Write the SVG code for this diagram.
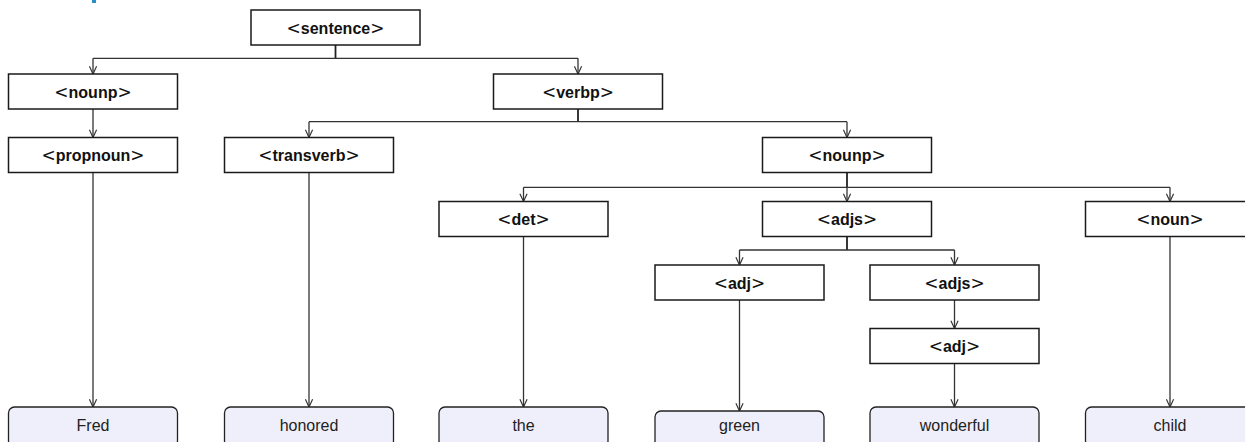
<svg xmlns="http://www.w3.org/2000/svg" width="1245" height="442" viewBox="0 0 1245 442">
<style>
.nb{fill:#fff;stroke:#1a1a1a;stroke-width:1.5}
.lf{fill:#efeffb;stroke:#222;stroke-width:1.3}
.lbl{font-family:"Liberation Sans",Arial,sans-serif;font-weight:bold;font-size:16px;fill:#111;text-anchor:middle}
.br{font-family:"DejaVu Sans",sans-serif;font-weight:normal;font-size:17px}
.lt{font-family:"Liberation Sans",Arial,sans-serif;font-size:16px;fill:#222;text-anchor:middle}
.c{fill:none;stroke:#333;stroke-width:1.3}
.st{fill:none;stroke:#222;stroke-width:1.8}
</style>
<defs>
<marker id="ah" viewBox="0 0 10 10" refX="9.5" refY="5" markerWidth="9" markerHeight="9" markerUnits="userSpaceOnUse" orient="auto">
<path d="M1,1 L9.5,5 L1,9" fill="none" stroke="#333" stroke-width="1.3"/>
</marker>
</defs>
<rect x="92" y="0" width="4" height="3" fill="#2a8fc4"/>
<g id="connectors">
<path class="st" d="M335.5,45 V58.3"/>
<path class="c" d="M93,58.3 H578"/>
<path class="c" d="M93,58.3 V74" marker-end="url(#ah)"/>
<path class="c" d="M578,58.3 V74" marker-end="url(#ah)"/>
<path class="c" d="M93,109 V137.5" marker-end="url(#ah)"/>
<path class="st" d="M578,109 V121.7"/>
<path class="c" d="M309,121.7 H847"/>
<path class="c" d="M309,121.7 V137.5" marker-end="url(#ah)"/>
<path class="c" d="M847,121.7 V137.5" marker-end="url(#ah)"/>
<path class="st" d="M847,172.5 V187.3"/>
<path class="c" d="M523.5,187.3 H1170"/>
<path class="c" d="M523.5,187.3 V201.5" marker-end="url(#ah)"/>
<path class="c" d="M847,187.3 V201.5" marker-end="url(#ah)"/>
<path class="c" d="M1170,187.3 V201.5" marker-end="url(#ah)"/>
<path class="st" d="M847,236.5 V250"/>
<path class="c" d="M739.5,250 H954.5"/>
<path class="c" d="M739.5,250 V265" marker-end="url(#ah)"/>
<path class="c" d="M954.5,250 V265" marker-end="url(#ah)"/>
<path class="c" d="M954.5,300 V328.5" marker-end="url(#ah)"/>
<path class="c" d="M93,172.5 V407" marker-end="url(#ah)"/>
<path class="c" d="M309,172.5 V407" marker-end="url(#ah)"/>
<path class="c" d="M523.5,236.5 V407" marker-end="url(#ah)"/>
<path class="c" d="M739.5,300 V411" marker-end="url(#ah)"/>
<path class="c" d="M954.5,363.5 V407" marker-end="url(#ah)"/>
<path class="c" d="M1170,236.5 V407" marker-end="url(#ah)"/>
</g>
<g id="sentence"><rect class="nb" x="251" y="10" width="169" height="35"/><text class="lbl" x="335.5" y="33.5"><tspan class="br">&lt;</tspan>sentence<tspan class="br">&gt;</tspan></text></g>
<g id="nounp1"><rect class="nb" x="8.5" y="74" width="169" height="35"/><text class="lbl" x="93" y="97.5"><tspan class="br">&lt;</tspan>nounp<tspan class="br">&gt;</tspan></text></g>
<g id="verbp"><rect class="nb" x="493.5" y="74" width="169" height="35"/><text class="lbl" x="578" y="97.5"><tspan class="br">&lt;</tspan>verbp<tspan class="br">&gt;</tspan></text></g>
<g id="propnoun"><rect class="nb" x="8.5" y="137.5" width="169" height="35"/><text class="lbl" x="93" y="161"><tspan class="br">&lt;</tspan>propnoun<tspan class="br">&gt;</tspan></text></g>
<g id="transverb"><rect class="nb" x="224.5" y="137.5" width="169" height="35"/><text class="lbl" x="309" y="161"><tspan class="br">&lt;</tspan>transverb<tspan class="br">&gt;</tspan></text></g>
<g id="nounp2"><rect class="nb" x="762.5" y="137.5" width="169" height="35"/><text class="lbl" x="847" y="161"><tspan class="br">&lt;</tspan>nounp<tspan class="br">&gt;</tspan></text></g>
<g id="det"><rect class="nb" x="439" y="201.5" width="169" height="35"/><text class="lbl" x="523.5" y="225"><tspan class="br">&lt;</tspan>det<tspan class="br">&gt;</tspan></text></g>
<g id="adjs1"><rect class="nb" x="762.5" y="201.5" width="169" height="35"/><text class="lbl" x="847" y="225"><tspan class="br">&lt;</tspan>adjs<tspan class="br">&gt;</tspan></text></g>
<g id="noun"><rect class="nb" x="1085.5" y="201.5" width="169" height="35"/><text class="lbl" x="1170" y="225"><tspan class="br">&lt;</tspan>noun<tspan class="br">&gt;</tspan></text></g>
<g id="adj1"><rect class="nb" x="655" y="265" width="169" height="35"/><text class="lbl" x="739.5" y="288.5"><tspan class="br">&lt;</tspan>adj<tspan class="br">&gt;</tspan></text></g>
<g id="adjs2"><rect class="nb" x="870" y="265" width="169" height="35"/><text class="lbl" x="954.5" y="288.5"><tspan class="br">&lt;</tspan>adjs<tspan class="br">&gt;</tspan></text></g>
<g id="adj2"><rect class="nb" x="870" y="328.5" width="169" height="35"/><text class="lbl" x="954.5" y="352"><tspan class="br">&lt;</tspan>adj<tspan class="br">&gt;</tspan></text></g>
<g id="fred"><rect class="lf" x="8.5" y="407" width="169" height="40" rx="6"/><text class="lt" x="93" y="431">Fred</text></g>
<g id="honored"><rect class="lf" x="224.5" y="407" width="169" height="40" rx="6"/><text class="lt" x="309" y="431">honored</text></g>
<g id="the"><rect class="lf" x="439" y="407" width="169" height="40" rx="6"/><text class="lt" x="523.5" y="431">the</text></g>
<g id="green"><rect class="lf" x="655" y="411" width="169" height="40" rx="6"/><text class="lt" x="739.5" y="431">green</text></g>
<g id="wonderful"><rect class="lf" x="870" y="407" width="169" height="40" rx="6"/><text class="lt" x="954.5" y="431">wonderful</text></g>
<g id="child"><rect class="lf" x="1085.5" y="407" width="169" height="40" rx="6"/><text class="lt" x="1170" y="431">child</text></g>
</svg>
